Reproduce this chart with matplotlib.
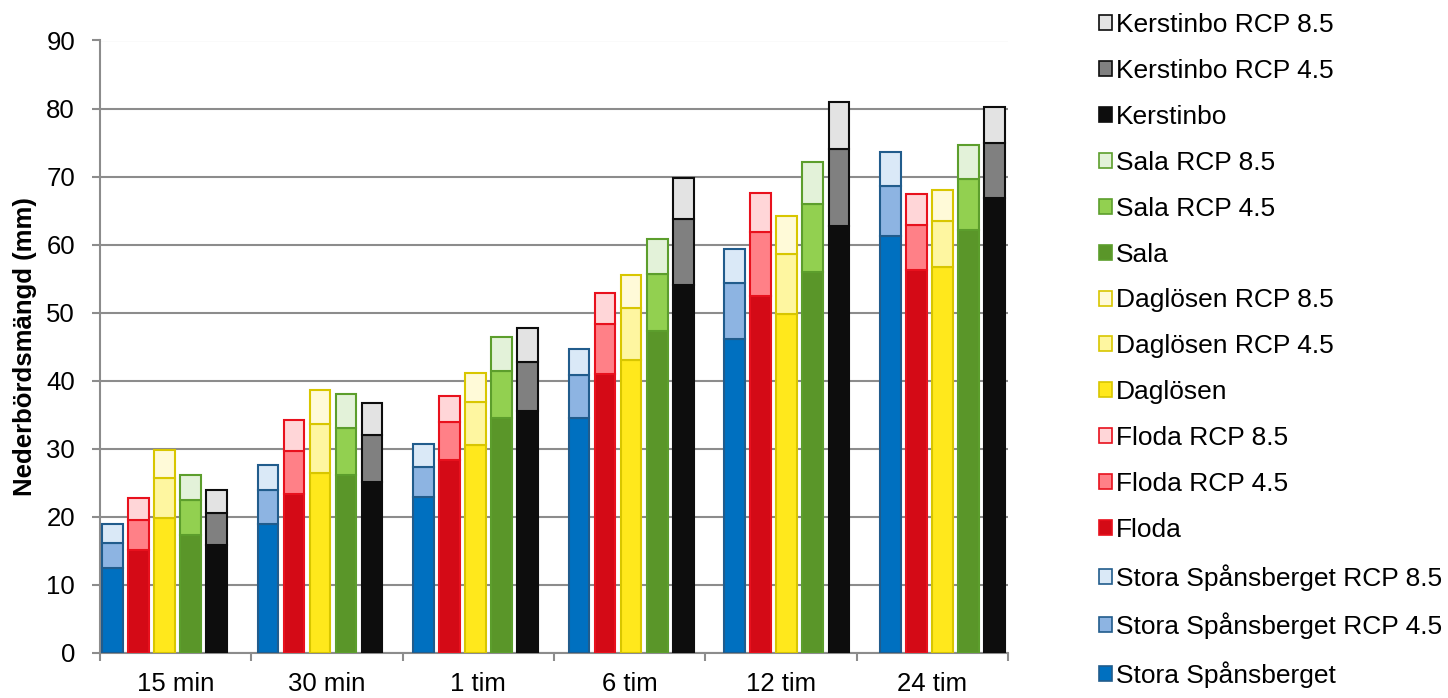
import matplotlib
matplotlib.use('Agg')
import matplotlib.pyplot as plt
import numpy as np
from matplotlib.patches import Patch

plt.rcParams['font.family'] = ['Liberation Sans', 'DejaVu Sans']

durations = ['15 min', '30 min', '1 tim', '6 tim', '12 tim', '24 tim']
stations = ['Stora Spånsberget', 'Floda', 'Daglösen', 'Sala', 'Kerstinbo']

# Nederbördsmängd (mm) per varaktighet: dagens klimat, RCP 4.5 och RCP 8.5
spans_now = [12.5, 18.9, 22.9, 34.6, 46.1, 61.3]
spans_45 = [16.2, 24.0, 27.4, 40.9, 54.4, 68.6]
spans_85 = [18.9, 27.6, 30.7, 44.6, 59.4, 73.6]

floda_now = [15.2, 23.4, 28.3, 41.0, 52.4, 56.3]
floda_45 = [19.6, 29.7, 33.9, 48.3, 61.8, 62.9]
floda_85 = [22.8, 34.2, 37.8, 52.9, 67.6, 67.5]

dag_now = [19.8, 26.5, 30.6, 43.0, 49.8, 56.7]
dag_45 = [25.7, 33.6, 36.9, 50.7, 58.7, 63.5]
dag_85 = [29.9, 38.6, 41.1, 55.5, 64.2, 68.0]

sala_now = [17.3, 26.1, 34.6, 47.3, 56.0, 62.2]
sala_45 = [22.5, 33.1, 41.5, 55.7, 66.0, 69.7]
sala_85 = [26.1, 38.1, 46.4, 60.9, 72.2, 74.6]

kerst_now = [15.9, 25.2, 35.6, 54.1, 62.8, 66.9]
kerst_45 = [20.6, 32.0, 42.7, 63.8, 74.0, 74.9]
kerst_85 = [24.0, 36.8, 47.7, 69.8, 80.9, 80.2]

now = [spans_now, floda_now, dag_now, sala_now, kerst_now]
rcp45 = [spans_45, floda_45, dag_45, sala_45, kerst_45]
rcp85 = [spans_85, floda_85, dag_85, sala_85, kerst_85]

# fill colours (now, RCP 4.5, RCP 8.5) and outline per station
fills = [
    ('#0070C0', '#8DB4E2', '#DAE9F7'),
    ('#D40A16', '#FF8087', '#FFD6D8'),
    ('#FFE81C', '#FEF6A0', '#FFFAD8'),
    ('#5A9629', '#92D050', '#E3F2D9'),
    ('#0D0D0D', '#808080', '#E3E3E3'),
]
edges = ['#215C8C', '#E8111D', '#D8C600', '#5C9E2C', '#0D0D0D']

W, H = 1448, 698
fig = plt.figure(figsize=(W / 100, H / 100), dpi=100)
ax = fig.add_axes([100 / W, (H - 653) / H, 908 / W, (653 - 40.5) / H])

group_x0 = 0.426
group_step = 1.028
bar_step = 0.172
bar_w = 0.136

handles = []
for k, name in enumerate(stations):
    x = group_x0 + np.arange(len(durations)) * group_step + (k - 2) * bar_step
    b = np.array(now[k])
    m = np.array(rcp45[k])
    t = np.array(rcp85[k])
    c0, c1, c2 = fills[k]
    kw = dict(width=bar_w, edgecolor=edges[k], linewidth=1.5, zorder=3)
    ax.bar(x, b, color=c0, **kw)
    ax.bar(x, m - b, bottom=b, color=c1, **kw)
    ax.bar(x, t - m, bottom=m, color=c2, **kw)
    handles += [
        (Patch(facecolor=c0, edgecolor=edges[k], linewidth=1.2), name),
        (Patch(facecolor=c1, edgecolor=edges[k], linewidth=1.2), name + ' RCP 4.5'),
        (Patch(facecolor=c2, edgecolor=edges[k], linewidth=1.2), name + ' RCP 8.5'),
    ]

grey = '#8C8C8C'
ax.set_ylim(0, 90)
ax.set_yticks(np.arange(0, 91, 10))
ax.set_xlim(0, 6)
ax.set_xticks(np.arange(0, 7))
ax.set_xticklabels([])
ax.set_xticks(np.arange(len(durations)) + 0.5, minor=True)
ax.set_xticklabels(durations, minor=True)
ax.tick_params(axis='x', which='minor', length=0, pad=14, labelsize=18.5)
ax.tick_params(axis='x', which='major', length=6, width=1.5, color=grey)
ax.tick_params(axis='y', length=6, width=1.5, color=grey, pad=12, labelsize=18.5)

ax.yaxis.grid(True, color=grey, linewidth=1.5, zorder=0)
ax.set_axisbelow(True)
for s in ['top', 'right']:
    ax.spines[s].set_visible(False)
for s in ['left', 'bottom']:
    ax.spines[s].set_color(grey)
    ax.spines[s].set_linewidth(1.5)

fig.text(25 / W, 1 - 347 / H, 'Nederbördsmängd (mm)', rotation=90, fontsize=18.5,
         fontweight='bold', ha='center', va='center')

handles = handles[::-1]
fig.legend([h for h, _ in handles], [l for _, l in handles],
           loc='upper left', bbox_to_anchor=(1099 / W, 1 - 13 / H),
           frameon=False, fontsize=19, borderpad=0, borderaxespad=0,
           handlelength=0.5, handleheight=0.5, handletextpad=0.15,
           labelspacing=0.83)

fig.savefig('out.png', dpi=100)
